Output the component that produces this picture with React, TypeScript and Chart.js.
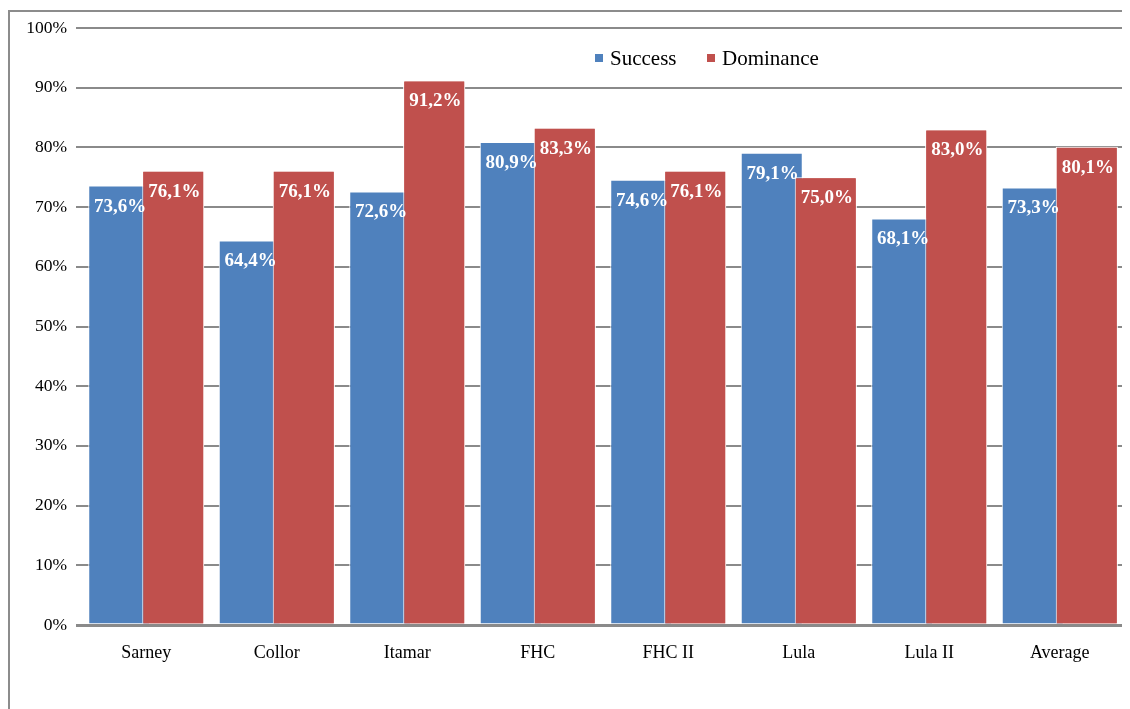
import React, { useEffect, useRef } from "react";
import { Chart, registerables } from "chart.js";

Chart.register(...registerables);

const categories = ["Sarney", "Collor", "Itamar", "FHC", "FHC II", "Lula", "Lula II", "Average"];
const successValues = [73.6, 64.4, 72.6, 80.9, 74.6, 79.1, 68.1, 73.3];
const dominanceValues = [76.1, 76.1, 91.2, 83.3, 76.1, 75.0, 83.0, 80.1];
const seriesNames = ["Success", "Dominance"];
const yTicks = [0, 10, 20, 30, 40, 50, 60, 70, 80, 90, 100];

const BLUE = "#4F81BD";
const RED = "#C0504D";
const GRID = "#8a8a8a";
const SERIF = "'Liberation Serif', 'Times New Roman', serif";

const fmt = (v: number) => v.toFixed(1).replace(".", ",") + "%";

const framePlugin = {
  id: "frame",
  beforeDraw(chart: any) {
    const { ctx, width, height } = chart;
    ctx.save();
    ctx.fillStyle = "#8c8c8c";
    ctx.fillRect(0, 2, 2, height - 2);
    ctx.fillRect(0, 2, width, 2);
    ctx.restore();
  },
};

const labelsPlugin = {
  id: "barLabels",
  afterDatasetsDraw(chart: any) {
    const { ctx } = chart;
    // redraw dominance bars so they sit over the overlapping success bars
    const redMeta = chart.getDatasetMeta(1);
    redMeta.data.forEach((el: any) => el.draw(ctx));
    ctx.save();
    ctx.fillStyle = "#ffffff";
    ctx.font = `bold 19px ${SERIF}`;
    ctx.textAlign = "center";
    ctx.textBaseline = "middle";
    [0, 1].forEach((di) => {
      const meta = chart.getDatasetMeta(di);
      const vals = chart.data.datasets[di].data as number[];
      meta.data.forEach((el: any, i: number) => {
        ctx.fillText(fmt(vals[i]), el.x + 1, el.y + 21);
      });
    });
    ctx.restore();
  },
};

export default function App() {
  const ref = useRef<HTMLCanvasElement | null>(null);

  useEffect(() => {
    document.body.style.overflow = "hidden";
    if (!ref.current) return;
    const chart = new Chart(ref.current, {
      type: "bar",
      data: {
        labels: categories,
        datasets: [
          {
            label: seriesNames[0],
            data: successValues,
            backgroundColor: BLUE,
            borderColor: "#ffffff",
            borderWidth: 1,
            categoryPercentage: 0.8276,
            barPercentage: 1.148,
          },
          {
            label: seriesNames[1],
            data: dominanceValues,
            backgroundColor: RED,
            borderColor: "#ffffff",
            borderWidth: 1,
            categoryPercentage: 0.8276,
            barPercentage: 1.148,
          },
        ],
      },
      options: {
        responsive: false,
        animation: false,
        layout: { padding: { top: 20, right: 5, left: 0, bottom: 0 } },
        plugins: {
          legend: { display: false },
          tooltip: { enabled: false },
        },
        scales: {
          x: {
            grid: { display: false, drawTicks: false },
            border: { display: false },
            ticks: {
              color: "#000",
              font: { family: SERIF, size: 18 },
              padding: 17,
            },
            afterFit: (scale: any) => {
              scale.height = 84;
            },
          },
          y: {
            min: 0,
            max: 100,
            afterBuildTicks: (scale: any) => {
              scale.ticks = yTicks.map((v) => ({ value: v }));
            },
            grid: {
              color: GRID,
              lineWidth: (c: any) => (c.tick && c.tick.value === 0 ? 3 : 2),
              tickLength: 5,
            },
            border: { display: false },
            ticks: {
              color: "#000",
              font: { family: SERIF, size: 17.5 },
              padding: 9,
              callback: (v: any) => v + "%",
            },
            afterFit: (scale: any) => {
              scale.width = 73;
            },
          },
        },
      },
      plugins: [framePlugin, labelsPlugin],
    });
    return () => chart.destroy();
  }, []);

  const legendItem = (name: string, color: string, left: number) => (
    <div
      key={name}
      style={{
        position: "absolute",
        left,
        top: 38,
        height: 24,
        display: "flex",
        alignItems: "center",
        fontFamily: SERIF,
        fontSize: 21,
        color: "#000",
        whiteSpace: "nowrap",
      }}
    >
      <span style={{ display: "inline-block", width: 8, height: 8, background: color, marginRight: 7 }} />
      <span>{name}</span>
    </div>
  );

  return (
    <div style={{ position: "relative", width: 1122, height: 701 }}>
      <canvas ref={ref} width={1122} height={701} style={{ display: "block" }} />
      {legendItem(seriesNames[0], BLUE, 587)}
      {legendItem(seriesNames[1], RED, 699)}
    </div>
  );
}
